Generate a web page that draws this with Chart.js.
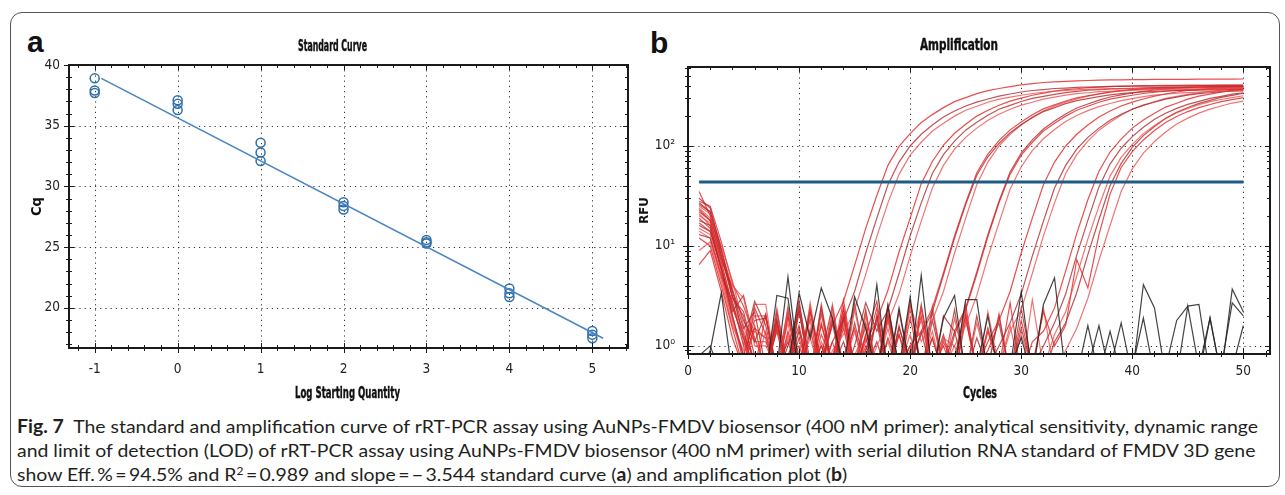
<!DOCTYPE html>
<html>
<head>
<meta charset="utf-8">
<script src="https://cdn.jsdelivr.net/npm/chart.js@4.4.1/dist/chart.umd.min.js"></script>
<style>
  body { margin: 0; width: 1285px; height: 495px; background: #fff; position: relative; overflow: hidden; }
  .frame { position: absolute; left: 10px; top: 12px; width: 1268px; height: 473px; border: 1px solid #555; border-radius: 12px; }
  canvas { position: absolute; top: 0; }
  #stdCanvas { left: 0; }
  #ampCanvas { left: 634px; }
  .panel { position: absolute; font: bold 30px 'Liberation Sans', Arial, sans-serif; line-height: 30px; color: #111; }
  .ttl { position: absolute; white-space: nowrap; transform-origin: 0 0; color: #111; -webkit-text-stroke: 0.4px #111;
         font: bold 15px 'Liberation Sans Narrow', 'DejaVu Sans Condensed', 'Liberation Sans', sans-serif; line-height: 15px; }
  .cap { position: absolute; left: 17px; white-space: nowrap; transform-origin: 0 0; color: #231f20;
         font: 18px Lato, 'Open Sans', sans-serif; line-height: 24px; }
  .cap sup { font-size: 0.62em; vertical-align: 0.55em; line-height: 0; }
</style>
</head>
<body>
<div class="frame"></div>
<div class="panel" style="left:27px; top:27px;">a</div>
<div class="panel" style="left:650px; top:28px;">b</div>
<canvas id="stdCanvas" width="640" height="410"></canvas>
<canvas id="ampCanvas" width="651" height="410"></canvas>
<div class="ttl" id="stdTitle" style="left:298px; top:39px;">Standard Curve</div>
<div class="ttl" id="ampTitle" style="left:920px; top:38px;">Amplification</div>
<div class="ttl" id="stdXTitle" style="left:295px; top:386px;">Log Starting Quantity</div>
<div class="ttl" id="ampXTitle" style="left:963px; top:386px;">Cycles</div>
<div class="cap" id="cap1" style="top:414px;"><b>Fig. 7</b>&nbsp; The standard and amplification curve of rRT-PCR assay using AuNPs-FMDV biosensor (400 nM primer): analytical sensitivity, dynamic range</div>
<div class="cap" id="cap2" style="top:438px;">and limit of detection (LOD) of rRT-PCR assay using AuNPs-FMDV biosensor (400 nM primer) with serial dilution RNA standard of FMDV 3D gene</div>
<div class="cap" id="cap3" style="top:462px;">show Eff.&thinsp;%&thinsp;=&thinsp;94.5% and R<sup>2</sup>&thinsp;=&thinsp;0.989 and slope&thinsp;=&thinsp;&minus;&thinsp;3.544 standard curve (<b>a</b>) and amplification plot (<b>b</b>)</div>

<script>
// ---- panel a: standard curve ----
const stdLogQty = [-1, -1, -1, 0, 0, 0, 1, 1, 1, 2, 2, 2, 3, 3, 3, 4, 4, 4, 5, 5, 5];
const stdCq = [38.9, 37.9, 37.7, 37.1, 36.8, 36.3, 33.6, 32.8, 32.1, 28.7, 28.4, 28.1, 25.6, 25.4, 25.3, 21.6, 21.2, 20.9, 18.1, 17.8, 17.5];
const fitLogQty = [-0.92, 5.13];
const fitCq = [38.9, 17.5];
const stdXTicks = [-1, 0, 1, 2, 3, 4, 5];
const stdYTicks = [20, 25, 30, 35, 40];
const stdXRange = [-1.31, 5.43];
const stdYRange = [16.7, 40];

// ---- panel b: amplification ----
const cycles = [1, 2, 3, 4, 5, 6, 7, 8, 9, 10, 11, 12, 13, 14, 15, 16, 17, 18, 19, 20, 21, 22, 23, 24, 25,
  26, 27, 28, 29, 30, 31, 32, 33, 34, 35, 36, 37, 38, 39, 40, 41, 42, 43, 44, 45, 46, 47, 48, 49, 50];
const ampXTicks = [0, 10, 20, 30, 40, 50];
const ampYTicks = [1, 10, 100];
const ampYTickLabels = ['10\u2070', '10\u00b9', '10\u00b2'];
const ampXRange = [0, 52.4];
const ampYRange = [0.83, 617];
const thresholdRFU = 43.6;
const thresholdCycles = [1, 50];

// RFU per cycle, 10^5 copies
const q5a = [22, 18, 7, 2.5, 1.2, 0.6, 2.0, 0.5, 1.4, 0.6, 2.3, 0.7, 1.6, 2.8, 6.4, 15, 32, 64, 99, 133, 172, 206, 242, 278, 305, 334, 358, 376, 393, 409, 421, 432, 438, 444, 449, 452, 456, 458, 459, 461, 462, 463, 464, 464, 465, 466, 466, 467, 467, 468];
const q5b = [30, 24, 9, 3.5, 1.5, 2.2, 0.6, 1.8, 0.5, 2.6, 0.7, 0.5, 1.1, 1.8, 3.5, 8.5, 19, 41, 69, 100, 131, 162, 195, 224, 251, 275, 295, 316, 331, 347, 359, 367, 376, 380, 385, 389, 391, 394, 395, 396, 397, 398, 398, 399, 400, 401, 402, 402, 403, 403];
const q5c = [15, 13, 5, 1.8, 0.7, 1.4, 1.2, 0.5, 2.1, 0.6, 1.5, 0.4, 0.9, 1.3, 2.3, 5.2, 12.4, 27, 52, 81, 109, 141, 169, 199, 228, 250, 274, 294, 308, 322, 335, 345, 353, 359, 364, 368, 371, 373, 375, 376, 377, 378, 379, 380, 380, 381, 382, 382, 383, 383];
// 10^4
const q4a = [35, 20, 8, 3.0, 2.0, 0.6, 0.5, 1.6, 0.6, 2.9, 0.5, 1.3, 0.7, 2.4, 0.6, 1.1, 1.8, 3.6, 8.7, 19, 42, 70, 102, 134, 165, 199, 228, 256, 281, 301, 322, 338, 354, 366, 374, 384, 388, 393, 397, 399, 402, 403, 404, 405, 406, 406, 407, 408, 409, 410];
const q4b = [18, 16, 6, 2.0, 0.8, 1.8, 1.9, 0.6, 1.1, 0.5, 2.2, 0.6, 1.7, 0.5, 1.0, 2.7, 1.4, 2.3, 5.3, 12.6, 27, 53, 82, 112, 144, 173, 203, 233, 255, 279, 300, 314, 329, 342, 352, 361, 367, 372, 375, 378, 381, 383, 384, 385, 386, 387, 388, 388, 389, 390];
const q4c = [25, 21, 10, 4.5, 1.6, 0.7, 0.6, 2.4, 0.5, 0.9, 1.8, 0.5, 2.6, 0.6, 1.4, 0.5, 1.0, 1.7, 3.3, 7.9, 17.7, 38, 64, 93, 122, 151, 181, 208, 233, 256, 274, 294, 308, 323, 334, 341, 350, 353, 358, 362, 364, 366, 367, 368, 369, 370, 370, 371, 372, 373];
// 10^3
const q3a = [12, 10, 4, 1.5, 0.6, 2.4, 1.3, 0.5, 2.0, 0.6, 0.5, 1.6, 0.7, 2.9, 0.6, 1.2, 0.5, 2.1, 0.6, 1.0, 1.4, 2.4, 5.4, 12.7, 27, 54, 83, 113, 145, 174, 205, 235, 258, 282, 303, 318, 332, 346, 356, 365, 370, 375, 379, 382, 385, 387, 388, 389, 390, 391];
const q3b = [27, 22, 8, 3.2, 1.3, 0.7, 0.5, 2.2, 0.6, 1.4, 0.5, 0.8, 2.5, 0.5, 1.7, 0.6, 2.0, 0.5, 1.5, 0.7, 1.3, 2.2, 5.1, 12, 26, 51, 78, 106, 136, 164, 192, 221, 242, 265, 284, 298, 312, 325, 334, 342, 348, 352, 356, 359, 362, 363, 364, 365, 366, 368];
const q3c = [20, 17, 7, 4.0, 3.0, 1.0, 1.0, 0.6, 1.7, 0.5, 2.7, 0.6, 1.1, 0.5, 2.3, 0.7, 0.5, 1.8, 0.6, 2.6, 1.1, 1.8, 3.5, 8.5, 19, 41, 69, 100, 131, 162, 195, 224, 251, 275, 295, 316, 331, 347, 359, 367, 376, 380, 385, 389, 391, 394, 395, 396, 397, 398];
// 10^2
const q2a = [6.5, 9, 3.5, 1.2, 0.6, 1.6, 0.5, 1.5, 0.6, 2.3, 0.5, 1.0, 0.6, 2.0, 0.5, 1.3, 2.8, 0.6, 0.5, 1.9, 0.6, 1.2, 0.5, 1.3, 2.3, 5.2, 12.4, 27, 52, 81, 109, 141, 169, 199, 228, 250, 274, 294, 308, 322, 335, 345, 353, 359, 364, 368, 371, 373, 375, 376];
const q2b = [16, 14, 6, 2.2, 3.2, 1.1, 2.1, 0.5, 0.8, 1.6, 0.5, 2.4, 0.6, 1.1, 0.5, 0.9, 1.7, 0.5, 2.2, 0.6, 1.4, 0.5, 2.0, 1.4, 2.4, 5.5, 13, 28, 55, 85, 115, 148, 178, 209, 240, 263, 288, 309, 324, 339, 353, 363, 372, 378, 383, 387, 390, 393, 395, 396];
const q2c = [24, 19, 9, 3.8, 1.1, 0.6, 1.4, 0.5, 2.5, 0.6, 1.2, 0.5, 1.8, 0.6, 0.5, 2.2, 0.6, 1.5, 0.5, 0.9, 2.4, 0.5, 1.2, 1.0, 1.6, 3.2, 7.7, 17, 37, 62, 90, 118, 146, 176, 202, 226, 248, 266, 284, 298, 312, 323, 330, 338, 342, 347, 350, 352, 355, 356];
// 10^1
const q1a = [28, 25, 11, 4.2, 2.5, 1.2, 0.6, 1.9, 0.5, 1.2, 0.5, 2.6, 0.6, 0.8, 1.5, 0.5, 2.0, 0.6, 1.3, 0.5, 2.4, 0.6, 1.0, 0.5, 1.8, 0.6, 1.1, 1.8, 3.5, 8.5, 19, 41, 69, 100, 131, 162, 195, 224, 251, 275, 295, 316, 331, 347, 359, 367, 376, 380, 385, 389];
const q1b = [13, 12, 5, 2.8, 1.0, 2.8, 1.6, 0.5, 1.0, 2.3, 0.5, 0.7, 1.9, 0.5, 2.7, 0.6, 1.1, 0.5, 1.6, 0.6, 0.5, 2.2, 0.6, 1.4, 0.5, 2.0, 0.6, 1.0, 1.7, 3.3, 7.9, 17.7, 38, 64, 93, 122, 151, 181, 208, 233, 256, 274, 294, 308, 323, 334, 341, 350, 353, 358];
const q1c = [21, 16, 6.5, 2.6, 1.4, 0.7, 0.5, 2.2, 0.6, 1.5, 0.5, 1.1, 0.6, 2.1, 0.5, 1.3, 0.6, 2.5, 0.5, 0.9, 1.8, 0.5, 1.2, 0.6, 2.3, 0.5, 1.5, 0.6, 1.4, 2.3, 5.3, 12.6, 27, 53, 82, 112, 144, 173, 203, 233, 255, 279, 300, 314, 329, 342, 352, 361, 367, 372];
// 10^0
const q0a = [19, 15, 5.5, 2.0, 0.7, 1.5, 1.2, 0.5, 2.0, 0.6, 0.5, 1.7, 0.6, 2.4, 0.5, 1.0, 0.6, 1.9, 0.5, 2.8, 0.6, 1.2, 0.5, 0.8, 2.0, 0.5, 1.5, 0.6, 2.7, 0.5, 1.1, 1.4, 2.4, 5.6, 13.3, 29, 56, 87, 117, 151, 182, 213, 245, 268, 294, 315, 330, 346, 360, 370];
const q0b = [26, 22, 9.5, 3.0, 2.2, 0.8, 0.6, 1.4, 0.5, 2.2, 0.6, 1.0, 0.5, 1.8, 0.6, 2.3, 0.5, 1.2, 0.6, 0.5, 2.6, 0.6, 1.3, 0.5, 2.1, 0.6, 0.9, 1.7, 0.5, 2.4, 0.6, 1.0, 1.7, 3.3, 8.1, 18, 39, 66, 95, 124, 154, 185, 213, 238, 261, 280, 300, 314, 330, 341];
const q0c = [9, 11, 4.5, 1.6, 0.9, 2.0, 2.0, 0.5, 1.3, 0.6, 2.5, 0.5, 0.8, 1.6, 0.5, 2.0, 0.6, 1.1, 0.5, 2.4, 0.6, 1.4, 0.5, 1.9, 0.6, 0.5, 2.2, 0.6, 1.6, 0.5, 2.9, 0.6, 1.3, 2.2, 5.0, 11.7, 25, 50, 77, 104, 133, 160, 188, 216, 237, 259, 278, 292, 305, 318];
// 10^-1
const qm1a = [17, 14, 6, 2.4, 1.2, 0.6, 0.5, 1.7, 0.6, 1.0, 0.5, 2.1, 0.6, 1.5, 0.5, 0.9, 2.4, 0.5, 1.3, 0.6, 2.0, 0.5, 1.1, 0.6, 2.6, 0.5, 1.4, 0.6, 0.5, 1.8, 0.6, 2.2, 1.0, 1.6, 7.3, 3.8, 13, 33, 61, 88, 115, 143, 172, 197, 221, 242, 260, 278, 291, 305];
const qm1b = [23, 18, 7.5, 3.6, 1.8, 1.1, 1.1, 0.6, 2.3, 0.5, 1.4, 0.6, 0.5, 2.0, 0.6, 1.7, 0.5, 2.6, 0.6, 1.0, 0.5, 1.8, 0.6, 2.3, 0.5, 1.2, 0.6, 2.0, 0.5, 1.5, 0.6, 0.5, 1.1, 1.7, 3.4, 8.2, 18.4, 40, 67, 97, 127, 157, 189, 217, 243, 267, 286, 307, 321, 337];
const qm1c = [14, 12, 5, 1.9, 0.8, 2.6, 2.6, 0.5, 1.2, 0.6, 1.9, 0.5, 2.2, 0.6, 0.8, 1.5, 0.5, 2.0, 0.6, 1.3, 0.5, 2.5, 0.6, 1.0, 0.5, 1.7, 0.6, 2.1, 0.5, 1.3, 0.6, 2.4, 0.5, 0.9, 1.5, 3.0, 7.2, 16, 35, 59, 85, 111, 138, 166, 190, 213, 234, 251, 269, 281];
// no-template controls
const ntc1 = [0.8, 1.0, 0.5, 0.5, 0.6, 0.5, 0.5, 0.6, 4.9, 0.6, 0.5, 0.5, 0.6, 0.5, 0.5, 0.6, 4.1, 0.5, 0.5, 0.6, 5.1, 0.5, 0.5, 0.6, 2.9, 2.9, 0.5, 0.5, 0.6, 3.5, 0.5, 0.5, 0.6, 0.5, 0.5, 1.6, 0.5, 0.6, 1.7, 0.5, 4.1, 2.4, 0.5, 0.5, 0.6, 0.5, 1.9, 0.5, 3.7, 2.2];
const ntc2 = [0.5, 0.9, 3.4, 0.5, 0.6, 0.5, 0.5, 3.2, 3.0, 0.5, 0.6, 0.5, 0.5, 0.6, 3.1, 1.5, 0.5, 2.5, 0.6, 3.1, 0.5, 0.5, 1.9, 3.2, 0.5, 0.6, 2.0, 0.5, 0.5, 0.6, 0.5, 2.6, 4.8, 0.5, 0.5, 0.6, 1.6, 0.5, 0.5, 0.6, 1.9, 0.5, 0.6, 1.8, 2.5, 2.6, 0.5, 0.6, 2.7, 2.0];
const ntc3 = [0.5, 0.5, 0.6, 0.5, 0.5, 0.6, 0.5, 0.5, 0.6, 3.4, 1.2, 3.8, 1.9, 0.6, 0.5, 0.5, 0.6, 0.5, 2.4, 0.6, 0.5, 0.5, 0.6, 0.5, 0.5, 0.6, 0.5, 0.5, 0.6, 1.2, 0.5, 0.5, 0.6, 0.5, 0.5, 0.6, 0.5, 1.4, 0.5, 0.6, 0.5, 0.5, 0.6, 0.5, 2.5, 0.6, 1.9, 0.5, 0.6, 1.6];

const NARROW = "'Liberation Sans Narrow', 'DejaVu Sans Condensed', 'Liberation Sans', sans-serif";

function stepValues(min, max, step) {
  const out = [];
  for (let k = Math.ceil(min / step - 1e-9); k * step <= max + 1e-9; k++) out.push(+(k * step).toFixed(6));
  return out;
}

function logMinorValues(min, max) {
  const out = [];
  for (let e = Math.floor(Math.log10(min)); e <= Math.ceil(Math.log10(max)); e++) {
    for (let m = 1; m <= 9; m++) {
      const v = m * Math.pow(10, e);
      if (v >= min && v <= max) out.push(v);
    }
  }
  return out;
}

const isIn = (list, v) => list.some(m => Math.abs(m - v) < 1e-6 * Math.max(1, Math.abs(m)));

// dotted grid under the data, ticks + box on top (like the instrument software)
const framePlugin = {
  id: 'frame',
  beforeDatasetsDraw(chart, args, o) {
    const { ctx, chartArea: a, scales: { x, y } } = chart;
    ctx.save();
    ctx.strokeStyle = '#333';
    ctx.lineWidth = 1;
    ctx.setLineDash([1.2, 4]);
    ctx.beginPath();
    o.xMajor.forEach(v => {
      const px = Math.round(x.getPixelForValue(v)) + 0.5;
      if (px <= a.left + 2 || px >= a.right - 2) return;
      ctx.moveTo(px, a.top);
      ctx.lineTo(px, a.bottom);
    });
    o.yMajor.forEach(v => {
      const py = Math.round(y.getPixelForValue(v)) + 0.5;
      if (py <= a.top + 2 || py >= a.bottom - 2) return;
      ctx.moveTo(a.left, py);
      ctx.lineTo(a.right, py);
    });
    ctx.stroke();
    ctx.restore();
  },
  afterDraw(chart, args, o) {
    const { ctx, chartArea: a, scales: { x, y } } = chart;
    const xMinor = stepValues(x.min, x.max, o.xMinor);
    const yMinor = o.logY ? logMinorValues(y.min, y.max) : stepValues(y.min, y.max, o.yMinor);
    ctx.save();
    ctx.strokeStyle = '#1a1a1a';
    ctx.lineWidth = 1;
    ctx.beginPath();
    xMinor.forEach(v => {
      const px = Math.round(x.getPixelForValue(v)) + 0.5;
      const len = isIn(o.xMajor, v) ? 5 : 3;
      ctx.moveTo(px, a.bottom - len);
      ctx.lineTo(px, a.bottom + len);
      ctx.moveTo(px, a.top);
      ctx.lineTo(px, a.top + len);
    });
    yMinor.forEach(v => {
      const py = Math.round(y.getPixelForValue(v)) + 0.5;
      const len = isIn(o.yMajor, v) ? 5 : 3;
      ctx.moveTo(a.left - len, py);
      ctx.lineTo(a.left + len, py);
      ctx.moveTo(a.right - len, py);
      ctx.lineTo(a.right, py);
    });
    ctx.stroke();
    ctx.lineWidth = 2;
    ctx.strokeRect(a.left, a.top, a.right - a.left, a.bottom - a.top);
    ctx.restore();
  }
};

function axisTitle(text, size, padding) {
  return { display: true, text: text, color: '#111', padding: padding,
           font: { family: NARROW, size: size, weight: 'bold', lineHeight: 1.2 } };
}

const tickFont = { family: NARROW, size: 13.5 };

new Chart(document.getElementById('stdCanvas'), {
  type: 'scatter',
  data: {
    datasets: [
      {
        data: fitLogQty.map((q, i) => ({ x: q, y: fitCq[i] })),
        showLine: true, borderColor: '#4a86c0', borderWidth: 1.6, pointRadius: 0
      },
      {
        data: stdLogQty.map((q, i) => ({ x: q, y: stdCq[i] })),
        showLine: false, pointRadius: 4.5, borderWidth: 1.5,
        borderColor: '#2f6ea8', backgroundColor: 'rgba(0,0,0,0)'
      }
    ]
  },
  options: {
    responsive: false, animation: false, events: [], devicePixelRatio: 1,
    layout: { padding: { left: 0, right: 12, top: 65, bottom: 0 } },
    plugins: {
      legend: { display: false }, tooltip: { enabled: false },
      frame: { xMajor: stdXTicks, yMajor: stdYTicks, xMinor: 0.2, yMinor: 1, logY: false }
    },
    scales: {
      x: {
        type: 'linear', min: stdXRange[0], max: stdXRange[1],
        afterFit: s => { s.height = 62; },
        afterBuildTicks: s => { s.ticks = stdXTicks.map(v => ({ value: v })); },
        grid: { display: false, drawTicks: false }, border: { display: false },
        ticks: { font: tickFont, color: '#222', padding: 13, autoSkip: false, maxRotation: 0 }
      },
      y: {
        type: 'linear', min: stdYRange[0], max: stdYRange[1],
        afterFit: s => { s.width = 69; },
        afterBuildTicks: s => { s.ticks = stdYTicks.map(v => ({ value: v })); },
        grid: { display: false, drawTicks: false }, border: { display: false },
        ticks: { font: tickFont, color: '#222', padding: 9, autoSkip: false },
        title: axisTitle('Cq', 14.5, { top: 28.3, bottom: 0 })
      }
    }
  },
  plugins: [framePlugin]
});

const redCurves = [q5a, q5b, q5c, q4a, q4b, q4c, q3a, q3b, q3c, q2a, q2b, q2c,
  q1a, q1b, q1c, q0a, q0b, q0c, qm1a, qm1b, qm1c];
const ntcCurves = [ntc1, ntc2, ntc3];
const redShades = ['rgba(225,35,35,0.8)', 'rgba(175,40,45,0.8)', 'rgba(236,70,70,0.75)'];

new Chart(document.getElementById('ampCanvas'), {
  type: 'line',
  data: {
    labels: cycles,
    datasets: [
      {
        data: thresholdCycles.map(c => ({ x: c, y: thresholdRFU })),
        borderColor: '#1f5b82', borderWidth: 3, pointRadius: 0
      },
      ...ntcCurves.map(d => ({ data: d, borderColor: 'rgba(35,35,35,0.85)', borderWidth: 1.2, pointRadius: 0 })),
      ...redCurves.map((d, i) => ({ data: d, borderColor: redShades[i % 3], borderWidth: 1.2, pointRadius: 0 }))
    ]
  },
  options: {
    responsive: false, animation: false, events: [], devicePixelRatio: 1,
    layout: { padding: { left: 0, right: 15, top: 67, bottom: 0 } },
    plugins: {
      legend: { display: false }, tooltip: { enabled: false },
      frame: { xMajor: ampXTicks, yMajor: ampYTicks, xMinor: 2, logY: true }
    },
    scales: {
      x: {
        type: 'linear', min: ampXRange[0], max: ampXRange[1],
        afterFit: s => { s.height = 56; },
        afterBuildTicks: s => { s.ticks = ampXTicks.map(v => ({ value: v })); },
        grid: { display: false, drawTicks: false }, border: { display: false },
        ticks: { font: tickFont, color: '#222', padding: 9, autoSkip: false, maxRotation: 0 }
      },
      y: {
        type: 'logarithmic', min: ampYRange[0], max: ampYRange[1],
        afterFit: s => { s.width = 54; },
        afterBuildTicks: s => { s.ticks = ampYTicks.map(v => ({ value: v })); },
        grid: { display: false, drawTicks: false }, border: { display: false },
        ticks: { font: tickFont, color: '#222', padding: 13, autoSkip: false,
                 callback: v => ampYTickLabels[ampYTicks.indexOf(v)] },
        title: axisTitle('RFU', 13, { top: 3.2, bottom: 0 })
      }
    }
  },
  plugins: [framePlugin]
});

// squeeze the html text to the widths it has in the figure
function fitWidth(id, w) {
  const el = document.getElementById(id);
  el.style.transform = 'none';
  const k = w / el.getBoundingClientRect().width;
  el.style.transform = 'scaleX(' + k + ')';
  return k;
}
function fitAll() {
  fitWidth('stdTitle', 69);
  fitWidth('ampTitle', 78);
  fitWidth('stdXTitle', 105);
  fitWidth('ampXTitle', 34);
  // caption: one common squeeze, taken from the first (full) line
  const k = fitWidth('cap1', 1241);
  ['cap2', 'cap3'].forEach(id => { document.getElementById(id).style.transform = 'scaleX(' + k + ')'; });
}
fitAll();
if (document.fonts) document.fonts.ready.then(fitAll);
</script>
</body>
</html>
